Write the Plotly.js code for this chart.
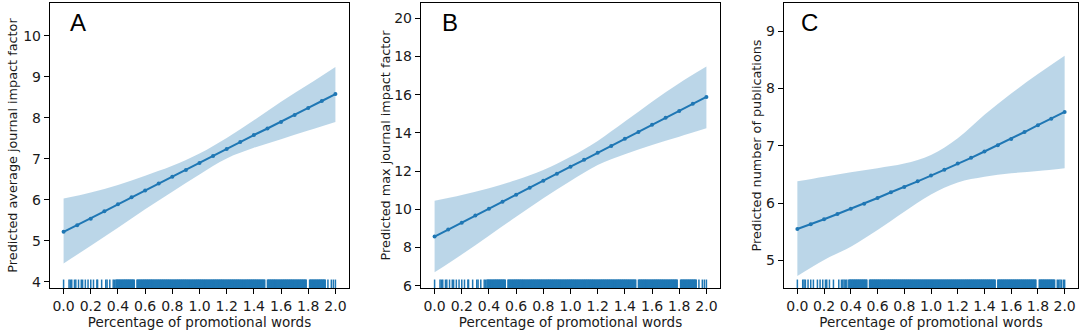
<!DOCTYPE html>
<html>
<head>
<meta charset="utf-8">
<script src="https://cdn.plot.ly/plotly-3.0.1.min.js"></script>
<style>html,body{margin:0;padding:0;background:#fff;}#chart{width:1080px;height:331px;}</style>
</head>
<body>
<div id="chart"></div>
<script>
// ---- data ----
const xPred = [0.0,0.1,0.2,0.3,0.4,0.5,0.6,0.7,0.8,0.9,1.0,1.1,1.2,1.3,1.4,1.5,1.6,1.7,1.8,1.9,2.0];
const predA = [5.22,5.38,5.54,5.72,5.89,6.06,6.23,6.40,6.56,6.73,6.90,7.07,7.24,7.41,7.58,7.74,7.90,8.07,8.24,8.41,8.58];
const predB = [8.57,8.94,9.30,9.67,10.03,10.40,10.76,11.13,11.49,11.86,12.23,12.59,12.96,13.32,13.69,14.05,14.42,14.79,15.15,15.52,15.88];
const predC = [5.55,5.63,5.72,5.81,5.90,5.99,6.09,6.19,6.28,6.38,6.48,6.58,6.69,6.79,6.90,7.01,7.12,7.24,7.36,7.47,7.59];

const xBand = [0.0,0.2,0.4,0.6,0.8,1.0,1.2,1.4,1.6,1.8,2.0];
const upperA = [6.03,6.18,6.36,6.59,6.83,7.13,7.51,7.94,8.39,8.81,9.24];
const lowerA = [4.45,4.88,5.32,5.77,6.20,6.62,7.01,7.27,7.48,7.69,7.90];
const upperB = [10.45,10.75,11.10,11.53,12.06,12.75,13.58,14.59,15.63,16.60,17.47];
const lowerB = [6.70,7.64,8.62,9.61,10.58,11.48,12.32,12.88,13.37,13.80,14.24];
const upperC = [6.38,6.46,6.54,6.61,6.69,6.84,7.13,7.54,7.91,8.25,8.57];
const lowerC = [4.73,5.01,5.24,5.53,5.85,6.15,6.36,6.46,6.52,6.56,6.61];

// rug (observed percentages of promotional words)
const rugSparseAB = [0.0,0.04,0.05,0.06,0.08,0.09,0.11,0.13,0.14,0.16,0.18,0.20,0.22,0.245,0.25,0.28,0.31,0.32,0.34,0.365,0.375];
const rugSparseC  = [0.0,0.04,0.05,0.06,0.08,0.10,0.12,0.15,0.17,0.19,0.21,0.22,0.24,0.27,0.31,0.33,0.34,0.35,0.36,0.37];
const rugDense = [0.385,0.39,0.395,0.40,0.405,0.41,0.415,0.42,0.425,0.43,0.435,0.44,0.445,0.45,0.455,0.46,0.465,0.47,0.475,0.48,0.485,0.49,0.495,0.50,0.505,0.51,0.515,0.52,
  0.54,0.545,0.55,0.555,0.56,0.565,0.57,0.575,0.58,0.585,0.59,0.595,0.60,0.605,0.61,0.615,0.62,0.625,0.63,0.635,0.64,0.645,0.65,0.655,0.66,0.665,0.67,0.675,0.68,0.685,0.69,0.695,
  0.70,0.705,0.71,0.715,0.72,0.725,0.73,0.735,0.74,0.745,0.75,0.755,0.76,0.765,0.77,0.775,0.78,0.785,0.79,0.795,0.80,0.805,0.81,0.815,0.82,0.825,0.83,0.835,0.84,0.845,
  0.85,0.855,0.86,0.865,0.87,0.875,0.88,0.885,0.89,0.895,0.90,0.905,0.91,0.915,0.92,0.925,0.93,0.935,0.94,0.945,0.95,0.955,0.96,0.965,0.97,0.975,0.98,0.985,0.99,0.995,
  1.00,1.005,1.01,1.015,1.02,1.025,1.03,1.035,1.04,1.045,1.05,1.055,1.06,1.065,1.07,1.075,1.08,1.085,1.09,1.095,1.10,1.105,1.11,1.115,1.12,1.125,1.13,1.135,1.14,1.145,
  1.15,1.155,1.16,1.165,1.17,1.175,1.18,1.185,1.19,1.195,1.20,1.205,1.21,1.215,1.22,1.225,1.23,1.235,1.24,1.245,1.25,1.255,1.26,1.265,1.27,1.275,1.28,1.285,1.29,1.295,
  1.30,1.305,1.31,1.315,1.32,1.325,1.33,1.335,1.34,1.345,1.35,1.355,1.36,1.365,1.37,1.375,1.38,1.385,1.39,1.395,1.40,1.405,1.41,1.415,1.42,1.425,1.43,1.435,1.44,1.445,
  1.45,1.455,1.46,1.465,1.47,1.475,1.48,1.50,1.505,1.51,1.515,1.52,1.525,1.53,1.535,1.54,1.545,1.55,1.555,1.56,1.565,1.57,1.575,1.58,1.585,1.59,1.595,
  1.60,1.605,1.61,1.615,1.62,1.625,1.63,1.635,1.64,1.645,1.65,1.655,1.66,1.665,1.67,1.675,1.68,1.685,1.69,1.695,1.70,1.705,1.71,1.715,1.72,1.725,1.73,1.735,1.74,1.745,
  1.75,1.755,1.76,1.765,1.77,1.775,1.78,1.785,1.81,1.815,1.82,1.825,1.83,1.835,1.84,1.845,1.85,1.855,1.86,1.865,1.87,1.875,1.88,1.885,1.89,1.895,1.90,1.905,1.91,1.915,1.92,1.925];
const rugTailAB = [1.945,1.97,1.985,2.0];
const rugTailC  = [1.945,1.955,1.965,1.975,1.99,2.0];
const rugAB = rugSparseAB.concat(rugDense, rugTailAB);
const rugC  = rugSparseC.concat(rugDense, rugTailC);

const xTicks = [0.0,0.2,0.4,0.6,0.8,1.0,1.2,1.4,1.6,1.8,2.0];
const xTickText = ["0.0","0.2","0.4","0.6","0.8","1.0","1.2","1.4","1.6","1.8","2.0"];
const yTicksA = [4,5,6,7,8,9,10];
const yTicksB = [6,8,10,12,14,16,18,20];
const yTicksC = [5,6,7,8,9];
const panelLetters = ["A","B","C"];
const xTitle = "Percentage of promotional words";
const yTitles = ["Predicted average journal impact factor","Predicted max journal impact factor","Predicted number of publications"];

// ---- style ----
const C0 = "#1f77b4";
const bandFill = "rgba(31,119,180,0.30)";
const W = 1080, H = 331;
const FONT = "DejaVu Sans, sans-serif";
const TXT = "#1a1a1a";

function bandTraces(xa, ya, lower, upper) {
  return [
    {x: xBand, y: lower, xaxis: xa, yaxis: ya, type: "scatter", mode: "lines",
     line: {width: 0, shape: "spline", smoothing: 1}, hoverinfo: "skip"},
    {x: xBand, y: upper, xaxis: xa, yaxis: ya, type: "scatter", mode: "lines",
     line: {width: 0, shape: "spline", smoothing: 1}, fill: "tonexty", fillcolor: bandFill, hoverinfo: "skip"}
  ];
}
function predTrace(xa, ya, y) {
  return {x: xPred, y: y, xaxis: xa, yaxis: ya, type: "scatter", mode: "lines+markers",
    line: {color: C0, width: 2}, marker: {color: C0, size: 4}};
}
function rugTrace(xa, ya, xs) {
  return {x: xs, y: xs.map(() => 0.0125), xaxis: xa, yaxis: ya, type: "scatter", mode: "markers",
    marker: {symbol: "line-ns", size: 7, color: C0, line: {color: C0, width: 1.5}}, hoverinfo: "skip"};
}

const data = [].concat(
  bandTraces("x", "y", lowerA, upperA), [predTrace("x", "y", predA)],
  bandTraces("x2", "y2", lowerB, upperB), [predTrace("x2", "y2", predB)],
  bandTraces("x3", "y3", lowerC, upperC), [predTrace("x3", "y3", predC)],
  [rugTrace("x", "y4", rugAB), rugTrace("x2", "y5", rugAB), rugTrace("x3", "y6", rugC)]
);

const yDom = [(H - 288) / H, (H - 3) / H];
function xAxis(l, r, anchor) {
  return {domain: [l / W, r / W], anchor: anchor, range: [-0.1, 2.1], tickvals: xTicks, ticktext: xTickText,
    ticks: "outside", ticklen: 5, tickwidth: 1, tickcolor: "#000",
    showline: true, mirror: true, linecolor: "#000", linewidth: 1.2,
    showgrid: false, zeroline: false, automargin: false,
    tickfont: {family: FONT, size: 14, color: TXT},
    title: {text: xTitle, font: {family: FONT, size: 13.5, color: TXT}, standoff: 3}};
}
function yAxis(anchor, range, ticks, title, standoff) {
  return {domain: yDom, anchor: anchor, range: range, tickvals: ticks,
    ticks: "outside", ticklen: 5, tickwidth: 1, tickcolor: "#000",
    showline: true, mirror: true, linecolor: "#000", linewidth: 1.2,
    showgrid: false, zeroline: false, automargin: false,
    tickfont: {family: FONT, size: 14, color: TXT},
    title: {text: title, font: {family: FONT, size: 12.8, color: TXT}, standoff: standoff}};
}
function rugAxis(over) {
  return {overlaying: over, range: [0, 1], visible: false, fixedrange: true};
}

const annotations = [["x", "y", 18], ["x2", "y2", 19], ["x3", "y3", 15]].map((a, i) => ({
  text: panelLetters[i], xref: a[0] + " domain", yref: a[1] + " domain",
  x: a[2] / 299, y: 0.985, xanchor: "left", yanchor: "top", showarrow: false,
  font: {family: "Liberation Sans, Arial, sans-serif", size: 24, color: "#000"}
}));

const layout = {
  width: W, height: H, margin: {l: 0, r: 0, t: 0, b: 0},
  paper_bgcolor: "#fff", plot_bgcolor: "#fff", showlegend: false,
  xaxis: xAxis(50, 349, "y"), xaxis2: xAxis(421, 720, "y2"), xaxis3: xAxis(784, 1078, "y3"),
  yaxis: yAxis("x", [3.85, 10.8], yTicksA, yTitles[0], 2),
  yaxis2: yAxis("x2", [5.88, 20.8], yTicksB, yTitles[1], 0),
  yaxis3: yAxis("x3", [4.52, 9.49], yTicksC, yTitles[2], 1),
  yaxis4: rugAxis("y"), yaxis5: rugAxis("y2"), yaxis6: rugAxis("y3"),
  annotations: annotations
};

Plotly.newPlot("chart", data, layout, {displayModeBar: false, staticPlot: true});
</script>
</body>
</html>
